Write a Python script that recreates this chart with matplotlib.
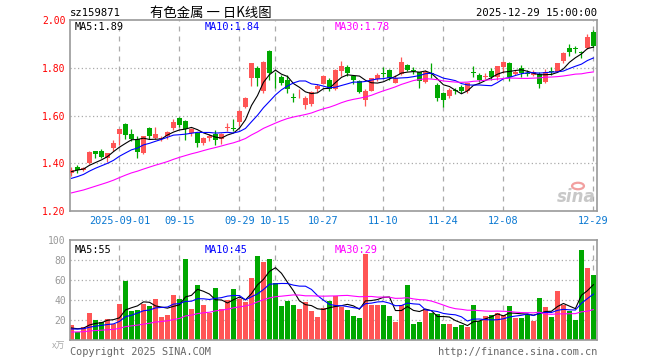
import numpy as np
import pandas as pd
import matplotlib
matplotlib.use('Agg')
from matplotlib import pyplot as plt

# daily K line, 2025-08-20 .. 2025-12-29 (88 trading days)
opens = [1.358, 1.383, 1.371, 1.401, 1.452, 1.452, 1.421, 1.465, 1.522, 1.564,
         1.525, 1.501, 1.442, 1.550, 1.508, 1.500, 1.515, 1.547, 1.592, 1.576,
         1.526, 1.528, 1.485, 1.508, 1.522, 1.501, 1.549, 1.549, 1.574, 1.636,
         1.760, 1.800, 1.702, 1.873, 1.772, 1.761, 1.750, 1.678, 1.699, 1.643,
         1.647, 1.712, 1.733, 1.751, 1.710, 1.786, 1.804, 1.768, 1.744, 1.666,
         1.705, 1.752, 1.779, 1.792, 1.738, 1.775, 1.813, 1.791, 1.781, 1.741,
         1.779, 1.728, 1.693, 1.683, 1.705, 1.722, 1.704, 1.783, 1.771, 1.763,
         1.789, 1.764, 1.806, 1.822, 1.775, 1.801, 1.779, 1.771, 1.775, 1.743,
         1.786, 1.785, 1.831, 1.882, 1.883, 1.865, 1.882, 1.951]
closes = [1.372, 1.374, 1.381, 1.449, 1.440, 1.428, 1.443, 1.485, 1.543, 1.519,
          1.504, 1.449, 1.513, 1.515, 1.525, 1.508, 1.533, 1.574, 1.560, 1.543,
          1.543, 1.486, 1.507, 1.515, 1.499, 1.522, 1.551, 1.547, 1.619, 1.675,
          1.821, 1.758, 1.826, 1.780, 1.770, 1.736, 1.710, 1.677, 1.701, 1.675,
          1.699, 1.726, 1.765, 1.710, 1.793, 1.809, 1.779, 1.751, 1.698, 1.705,
          1.757, 1.772, 1.778, 1.757, 1.759, 1.827, 1.792, 1.790, 1.744, 1.783,
          1.778, 1.675, 1.667, 1.708, 1.704, 1.704, 1.736, 1.782, 1.750, 1.765,
          1.764, 1.808, 1.826, 1.764, 1.785, 1.778, 1.778, 1.785, 1.732, 1.785,
          1.785, 1.819, 1.861, 1.868, 1.882, 1.864, 1.931, 1.892]
highs = [1.383, 1.393, 1.386, 1.452, 1.452, 1.460, 1.443, 1.497, 1.546, 1.568,
         1.546, 1.515, 1.515, 1.554, 1.554, 1.515, 1.536, 1.585, 1.596, 1.581,
         1.550, 1.532, 1.511, 1.525, 1.540, 1.526, 1.568, 1.585, 1.624, 1.679,
         1.821, 1.810, 1.830, 1.877, 1.785, 1.771, 1.772, 1.695, 1.710, 1.682,
         1.703, 1.731, 1.772, 1.758, 1.796, 1.830, 1.814, 1.772, 1.751, 1.710,
         1.760, 1.780, 1.802, 1.796, 1.770, 1.846, 1.816, 1.802, 1.785, 1.790,
         1.820, 1.735, 1.700, 1.715, 1.715, 1.727, 1.738, 1.808, 1.778, 1.778,
         1.801, 1.810, 1.828, 1.826, 1.792, 1.813, 1.792, 1.792, 1.785, 1.794,
         1.806, 1.822, 1.868, 1.900, 1.892, 1.872, 1.942, 1.958]
lows = [1.348, 1.360, 1.366, 1.398, 1.421, 1.421, 1.404, 1.453, 1.476, 1.501,
        1.494, 1.421, 1.439, 1.501, 1.501, 1.494, 1.504, 1.540, 1.554, 1.499,
        1.515, 1.467, 1.478, 1.494, 1.476, 1.483, 1.536, 1.536, 1.557, 1.633,
        1.723, 1.724, 1.696, 1.750, 1.715, 1.729, 1.696, 1.658, 1.675, 1.626,
        1.640, 1.699, 1.731, 1.703, 1.707, 1.765, 1.768, 1.731, 1.696, 1.642,
        1.703, 1.745, 1.761, 1.751, 1.735, 1.770, 1.786, 1.775, 1.718, 1.736,
        1.757, 1.660, 1.637, 1.675, 1.692, 1.695, 1.695, 1.764, 1.743, 1.753,
        1.750, 1.750, 1.780, 1.747, 1.771, 1.764, 1.767, 1.767, 1.715, 1.736,
        1.771, 1.781, 1.822, 1.850, 1.861, 1.840, 1.878, 1.886]
volumes = [15, 8.3, 13, 26.7, 20, 18.3, 20.7, 16, 36, 59.3,
           29.3, 30, 36, 34, 41.3, 23.3, 24.7, 45, 41.3, 81,
           31.3, 55, 35, 27.3, 52.3, 30.7, 40, 51, 40.7, 38.3,
           61.7, 84, 78.3, 80.7, 56.7, 34, 39.3, 35, 30.7, 37.7,
           29.3, 23.3, 31.7, 39.3, 44, 33.3, 30, 24, 22.3, 86,
           35, 35, 35, 24, 18.3, 35, 55, 15.7, 18.3, 30.7,
           26.7, 26, 15.7, 15.7, 13, 15, 12.7, 35, 19.3, 24,
           25, 27.3, 25, 34, 22.3, 22.3, 26, 19.3, 42.3, 32.7,
           23.3, 49.3, 35, 29.3, 20, 90, 72.3, 65]

# sessions before the window (only feed the moving averages)
prev_closes = [1.19, 1.20, 1.21, 1.20, 1.19, 1.20, 1.21, 1.22, 1.21, 1.22,
               1.23, 1.25, 1.27, 1.28, 1.29, 1.30, 1.29, 1.31, 1.32, 1.32,
               1.30, 1.29, 1.31, 1.32, 1.325, 1.34, 1.36, 1.37, 1.383]
prev_volumes = [6, 7, 5, 6, 8, 7, 6, 5, 7, 6, 8, 7, 6, 7, 6, 5, 7, 8, 6, 7,
                9, 10, 11, 10, 10, 12, 10, 11, 12]

tick_idx = [8, 18, 28, 34, 42, 52, 62, 72, 87]
tick_lbl = ['2025-09-01', '09-15', '09-29', '10-15', '10-27', '11-10', '11-24', '12-08', '12-29']

W, H = 660, 360
def fx(x): return x / W
def fy(y): return 1 - y / H

RED, GREEN = '#ff5555', '#00a800'
GRID = '#aaaaaa'
MONO = 'DejaVu Sans Mono'

n = len(closes)
x = np.arange(n)
o = np.array(opens); c = np.array(closes)
hi = np.array(highs); lo = np.array(lows)
v = np.array(volumes)
up = c >= o
cols = np.where(up, RED, GREEN)

allc = pd.Series(prev_closes + closes)
allv = pd.Series(prev_volumes + volumes)
ma = {k: allc.rolling(k).mean().values[-n:] for k in (5, 10, 30)}
vma = {k: allv.rolling(k).mean().values[-n:] for k in (5, 10, 30)}
ma_cols = {5: 'black', 10: '#0000ff', 30: '#ff00ff'}

fig = plt.figure(figsize=(6.6, 3.6), dpi=100)
ax = fig.add_axes([fx(70), fy(211), fx(597) - fx(70), fy(20) - fy(211)])
axv = fig.add_axes([fx(70), fy(340), fx(597) - fx(70), fy(240) - fy(340)])

for a in (ax, axv):
	a.set_xlim(-0.25, 87.6)
	for s in a.spines.values():
		s.set_color('#999999')
		s.set_linewidth(1.2)
	for t in tick_idx:
		a.axvline(t, color=GRID, lw=0.9, ls=(0, (4, 4)), zorder=0)
	a.tick_params(length=0)

# price panel
ax.set_ylim(1.2035, 2.0012)
for p in (1.4, 1.6, 1.8):
	ax.axhline(p, color=GRID, lw=0.9, ls=(0, (1, 2)), zorder=0)
ax.vlines(x, lo, hi, color=cols, lw=0.9, zorder=2)
flat = np.abs(c - o) < 0.003
body = np.maximum(np.abs(c - o), 0.003)
ax.bar(x, body, bottom=np.minimum(o, c) - np.where(flat, 0.0015, 0), width=0.74, color=cols, zorder=3, linewidth=0)
for k in (5, 10, 30):
	ax.plot(x, ma[k], color=ma_cols[k], lw=0.8, zorder=4)
ax.set_yticks([1.2, 1.4, 1.6, 1.8, 2.0])
ax.set_yticklabels(['1.20', '1.40', '1.60', '1.80', '2.00'], color='red', family=MONO, fontsize=7)
ax.tick_params(axis='y', pad=3)
ax.set_xticks(tick_idx)
ax.set_xticklabels(tick_lbl, color='#0a78d2', family=MONO, fontsize=7.4)
ax.tick_params(axis='x', pad=3.5)

# volume panel
axv.set_ylim(0, 100)
for q in (20, 40, 60, 80):
	axv.axhline(q, color=GRID, lw=0.9, ls=(0, (1, 2)), zorder=0)
axv.bar(x, v, width=0.78, color=cols, linewidth=0, zorder=2)
for k in (5, 10, 30):
	axv.plot(x, vma[k], color=ma_cols[k], lw=0.8, zorder=4)
axv.set_yticks([20, 40, 60, 80, 100])
axv.set_yticklabels(['20', '40', '60', '80', '100'], color='#999999', family=MONO, fontsize=7)
axv.tick_params(axis='y', pad=3)
axv.set_xticks([])

# texts
fig.text(fx(70), fy(13), 'sz159871', family=MONO, fontsize=7.6, va='center')
fig.text(fx(150), fy(13), '有色金属 一 日K线图', family=['Noto Sans CJK SC', 'DejaVu Sans'], fontsize=9.6, va='center')
fig.text(fx(597), fy(13), '2025-12-29 15:00:00', family=MONO, fontsize=7.6, va='center', ha='right')
for lbl, px_, col in (('MA5:1.89', 75, 'black'), ('MA10:1.84', 205, '#0000ff'), ('MA30:1.78', 335, '#ff00ff')):
	fig.text(fx(px_), fy(27), lbl, family=MONO, fontsize=7.4, color=col, va='center')
for lbl, px_, col in (('MA5:55', 75, 'black'), ('MA10:45', 205, '#0000ff'), ('MA30:29', 335, '#ff00ff')):
	fig.text(fx(px_), fy(250), lbl, family=MONO, fontsize=7.4, color=col, va='center')
fig.text(fx(65), fy(346), 'x万', family=['Noto Sans CJK SC', 'DejaVu Sans'], fontsize=6.5, color='#aaaaaa', va='center', ha='right')
fig.text(fx(70), fy(352), 'Copyright 2025 SINA.COM', family=MONO, fontsize=7.4, color='#666666', va='center')
fig.text(fx(597), fy(352), 'http://finance.sina.com.cn', family=MONO, fontsize=7.4, color='#666666', va='center', ha='right')

# sina watermark
fig.text(fx(596), fy(197), 'sina', fontsize=12, style='italic', weight='bold', color='#c8c8c8', ha='right', va='center')
fig.patches.append(plt.Circle((fx(578), fy(186)), 0.009, transform=fig.transFigure, fill=False, ec='#f2a0a0', lw=1.6))

plt.savefig('out.png', dpi=100)
